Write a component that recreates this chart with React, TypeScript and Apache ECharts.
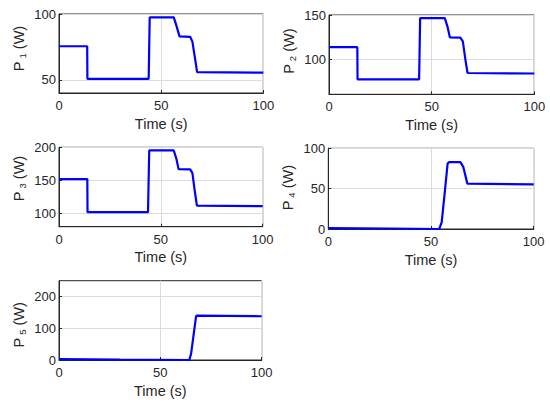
import React, { useEffect, useRef } from "react";
import * as echarts from "echarts";

// ---- data ----
const xTicks = [0, 50, 100];

const t1 = [0, 13.8, 13.9, 43.9, 44.4, 56.2, 57.5, 59.0, 64.2, 65.3, 66.5, 67.6, 100];
const p1 = [75.5, 75.5, 50.8, 50.8, 97.4, 97.4, 91, 83, 82.7, 79, 67, 55.8, 55.4];

const t2 = [0, 13.8, 13.9, 43.9, 44.4, 56.4, 57.7, 58.9, 64.0, 65.2, 66.4, 67.5, 100];
const p2 = [113.5, 113.5, 77, 77, 146.5, 146.5, 137, 124.5, 124.3, 120, 100, 84.2, 83.6];

const t3 = [0, 13.9, 14.0, 43.7, 44.3, 56.3, 57.6, 58.7, 64.4, 65.5, 66.6, 67.7, 100];
const p3 = [152, 152, 102, 102, 195.5, 195.5, 183, 167, 166.7, 161, 135, 112, 111];

const t4 = [0, 30, 54.0, 55.2, 56.8, 58.1, 58.8, 64.3, 65.7, 66.9, 67.7, 100];
const p4 = [1.2, 0.6, 0, 8.3, 48, 81.2, 82.8, 82.8, 77, 64.6, 56.2, 55.4];

const t5 = [0, 30, 64.3, 65.2, 66.5, 67.6, 67.9, 100];
const p5 = [2.5, 1.2, 0, 21, 84, 137, 140, 138];

const yTicks1 = [50, 100];
const yTicks2 = [100, 150];
const yTicks3 = [100, 150, 200];
const yTicks4 = [0, 50, 100];
const yTicks5 = [0, 100, 200];

const yLimits = [
  [40, 100],
  [60, 150],
  [80, 200],
  [0, 100],
  [0, 250],
];
const subscripts = ["1", "2", "3", "4", "5"];

// ---- layout / style ----
const FONT = "'Liberation Sans', Arial, Helvetica, sans-serif";
const TXT = "#262626";
const grids = [
  { left: 58.3, top: 14, width: 205, height: 79 },
  { left: 329, top: 15, width: 205.3, height: 79.3 },
  { left: 58.3, top: 147.3, width: 204.4, height: 79.4 },
  { left: 328.3, top: 148.3, width: 205.4, height: 80.7 },
  { left: 56, top: 280.7, width: 205.7, height: 79.3 },
];
const yNamePad = [10, 7, 17, 2, -9];

export default function App() {
  const ref = useRef<HTMLDivElement>(null);
  useEffect(() => {
    if (!ref.current) return;
    const chart = echarts.init(ref.current, null, { renderer: "svg" });
    const times = [t1, t2, t3, t4, t5];
    const vals = [p1, p2, p3, p4, p5];
    const yTicks = [yTicks1, yTicks2, yTicks3, yTicks4, yTicks5];

    const option: any = {
      animation: false,
      backgroundColor: "#fff",
      grid: grids.map((g) => ({
        ...g,
        show: true,
        borderColor: TXT,
        borderWidth: 1,
        backgroundColor: "#fff",
      })),
      xAxis: grids.map((_, i) => ({
        type: "value",
        gridIndex: i,
        min: 0,
        max: 100,
        axisLine: { show: true, lineStyle: { color: TXT, width: 1 } },
        axisTick: { show: true, inside: true, length: 3, customValues: xTicks, lineStyle: { color: TXT } },
        axisLabel: { customValues: xTicks, color: TXT, fontSize: 13, fontFamily: FONT, margin: 6 },
        splitLine: { show: true, lineStyle: { color: "#dcdcdc", width: 1 } },
        name: "Time (s)",
        nameLocation: "middle",
        nameGap: 23,
        nameTextStyle: { color: TXT, fontSize: 14.5, fontFamily: FONT },
      })),
      yAxis: grids.map((_, i) => ({
        type: "value",
        gridIndex: i,
        min: yLimits[i][0],
        max: yLimits[i][1],
        axisLine: { show: true, lineStyle: { color: TXT, width: 1 } },
        axisTick: { show: true, inside: true, length: 3, customValues: yTicks[i], lineStyle: { color: TXT } },
        axisLabel: { customValues: yTicks[i], color: TXT, fontSize: 13, fontFamily: FONT, margin: 3 },
        splitLine: { show: true, lineStyle: { color: "#dcdcdc", width: 1 } },
        name: `{m|P}{s|${subscripts[i]}}{m| (W)}`,
        nameLocation: "middle",
        nameGap: 32,
        nameTextStyle: {
          padding: yNamePad[i] >= 0 ? [0, 0, 0, yNamePad[i]] : [0, -yNamePad[i], 0, 0],
          rich: {
            m: { fontSize: 14.5, fontFamily: FONT, color: TXT, lineHeight: 16, verticalAlign: "top" },
            s: { fontSize: 9.5, fontFamily: FONT, color: TXT, lineHeight: 10, verticalAlign: "bottom", padding: [16, 0, 0, 3] },
          },
        },
      })),
      series: grids.map((_, i) => ({
        type: "line",
        xAxisIndex: i,
        yAxisIndex: i,
        showSymbol: false,
        symbol: "none",
        lineStyle: { color: "#0000ff", width: 2.2 },
        data: times[i].map((t, k) => [t, vals[i][k]]),
      })),
    };
    chart.setOption(option);
    return () => chart.dispose();
  }, []);
  return (
    <div
      ref={ref}
      style={{ position: "fixed", left: 0, top: 0, width: 550, height: 407 }}
    />
  );
}
